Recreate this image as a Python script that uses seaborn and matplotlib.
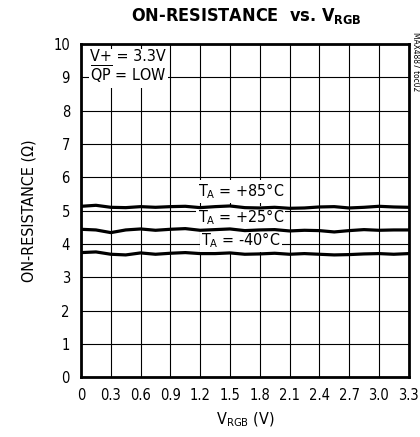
import numpy as np
import pandas as pd
import seaborn as sns
import matplotlib.pyplot as plt

# data
v_rgb = [0.0, 0.15, 0.3, 0.45, 0.6, 0.75, 0.9, 1.05, 1.2, 1.35, 1.5, 1.65,
         1.8, 1.95, 2.1, 2.25, 2.4, 2.55, 2.7, 2.85, 3.0, 3.15, 3.3]
r_85 = [5.13, 5.16, 5.10, 5.09, 5.12, 5.10, 5.12, 5.13, 5.09, 5.12, 5.14, 5.09,
        5.08, 5.10, 5.07, 5.08, 5.11, 5.12, 5.08, 5.10, 5.13, 5.11, 5.10]
r_25 = [4.44, 4.42, 4.34, 4.42, 4.45, 4.41, 4.44, 4.46, 4.41, 4.43, 4.45, 4.40,
        4.42, 4.43, 4.39, 4.41, 4.40, 4.36, 4.40, 4.43, 4.41, 4.42, 4.42]
r_m40 = [3.74, 3.76, 3.69, 3.67, 3.73, 3.69, 3.72, 3.74, 3.71, 3.71, 3.73, 3.69,
         3.70, 3.72, 3.69, 3.71, 3.69, 3.67, 3.68, 3.70, 3.71, 3.69, 3.71]
temps = ["+85", "+25", "-40"]
x_ticks = [0, 0.3, 0.6, 0.9, 1.2, 1.5, 1.8, 2.1, 2.4, 2.7, 3.0, 3.3]
x_labels = ["0", "0.3", "0.6", "0.9", "1.2", "1.5", "1.8", "2.1", "2.4", "2.7", "3.0", "3.3"]
y_ticks = list(range(0, 11))

df = pd.DataFrame({
    "v": v_rgb * 3,
    "r": r_85 + r_25 + r_m40,
    "temp": [t for t in temps for _ in v_rgb],
})

sns.set_style("white")
plt.rcParams['font.family'] = ['DejaVu Sans']
plt.rcParams['font.stretch'] = 'condensed'
plt.rcParams['text.color'] = 'black'
plt.rcParams['axes.labelcolor'] = 'black'
plt.rcParams['xtick.color'] = 'black'
plt.rcParams['ytick.color'] = 'black'
plt.rcParams['mathtext.fontset'] = 'custom'
plt.rcParams['mathtext.rm'] = 'DejaVu Sans:stretch=condensed'
plt.rcParams['mathtext.bf'] = 'DejaVu Sans:stretch=condensed:bold'

fig = plt.figure(figsize=(4.2, 4.37), dpi=100)
ax = fig.add_axes([0.193, 0.137, 0.780, 0.762])

sns.lineplot(data=df, x="v", y="r", hue="temp", palette=["black"] * 3,
             linewidth=2.3, legend=False, ax=ax, zorder=5)

ax.set_xlim(0, 3.3)
ax.set_ylim(0, 10)
ax.set_xticks(x_ticks)
ax.set_xticklabels(x_labels)
ax.set_yticks(y_ticks)
ax.grid(True, color="black", linewidth=0.8)
ax.tick_params(axis="both", labelsize=10.5, length=0, pad=8)
for s in ax.spines.values():
    s.set_linewidth(2)
    s.set_color("black")

ax.set_xlabel("V$_{\\mathregular{RGB}}$ (V)", fontsize=11.5, labelpad=5)
ax.set_ylabel("ON-RESISTANCE (\u03a9)", fontsize=11.5, labelpad=12)
fig.text(0.586, 0.964, "ON-RESISTANCE  vs. V$_{\\mathbf{RGB}}$", ha="center",
         va="center", fontsize=13, fontweight="bold")

box = dict(facecolor="white", edgecolor="none", pad=1)
ax.text(0.09, 9.85, "V+ = 3.3V\n$\\mathregular{\\overline{QP}}$ = LOW", fontsize=11.5,
        va="top", ha="left", linespacing=1.0, bbox=box, zorder=4)
for label, y in [("+85", 5.58), ("+25", 4.8), ("-40", 4.1)]:
    ax.text(1.61, y, "T$_{\\mathregular{A}}$ = " + label + "\u00b0C", fontsize=11.5,
            ha="center", va="center", bbox=box, zorder=4)

fig.text(0.99, 0.86, "MAX4887 toc02", rotation=270, fontsize=6, ha="center", va="center")

fig.savefig("out.png", dpi=100)
